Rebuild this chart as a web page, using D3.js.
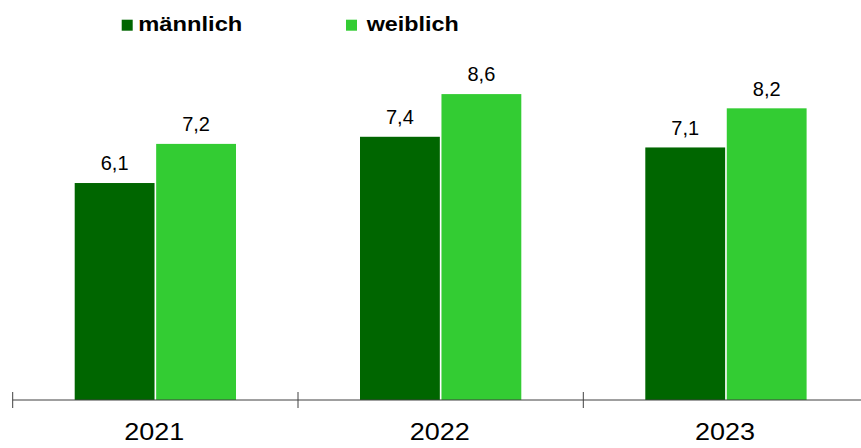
<!DOCTYPE html>
<html>
<head>
<meta charset="utf-8">
<script src="https://cdn.jsdelivr.net/npm/d3@7"></script>
<style>
  html, body { margin: 0; padding: 0; background: #fff; }
  svg { display: block; font-family: Arial, "Liberation Sans", sans-serif; }
</style>
</head>
<body>
<svg id="chart" width="861" height="448"></svg>
<script>
const years = ["2021", "2022", "2023"];
const seriesNames = ["männlich", "weiblich"];
const maleValues = [6.1, 7.4, 7.1];
const femaleValues = [7.2, 8.6, 8.2];
const colors = ["#006600", "#33cc33"];

const svg = d3.select("#chart");
const width = 861, height = 448;

const x0 = d3.scaleBand().domain(years).range([12.7, 868.6]).paddingInner(0).paddingOuter(0);
const groupPad = 62;
const x1 = d3.scaleBand().domain(seriesNames)
  .range([groupPad, x0.bandwidth() - groupPad]).paddingInner(0.02).paddingOuter(0);
const y = d3.scaleLinear().domain([0, 10]).range([400, 44.3]);

const data = years.map((yr, i) => ({
  year: yr,
  values: [
    { series: seriesNames[0], value: maleValues[i], color: colors[0] },
    { series: seriesNames[1], value: femaleValues[i], color: colors[1] }
  ]
}));

const fmt = v => d3.format(".1f")(v).replace(".", ",");

const groups = svg.append("g").selectAll("g").data(data).join("g")
  .attr("transform", d => `translate(${x0(d.year)},0)`);

groups.selectAll("rect").data(d => d.values).join("rect")
  .attr("x", d => x1(d.series))
  .attr("y", d => y(d.value))
  .attr("width", x1.bandwidth())
  .attr("height", d => y(0) - y(d.value))
  .attr("fill", d => d.color);

groups.selectAll("text.val").data(d => d.values).join("text")
  .attr("class", "val")
  .attr("x", d => x1(d.series) + x1.bandwidth() / 2)
  .attr("y", d => y(d.value) - 12.7)
  .attr("text-anchor", "middle")
  .attr("font-size", 20)
  .attr("fill", "#000")
  .text(d => fmt(d.value));

// x axis
const axis = d3.axisBottom(x0).tickSize(0).tickPadding(0);
const axisG = svg.append("g").attr("transform", `translate(0,${y(0)})`);
axisG.append("line")
  .attr("x1", 12.7).attr("x2", width)
  .attr("y1", 0).attr("y2", 0)
  .attr("stroke", "#404040").attr("stroke-width", 1);
// tick marks at band boundaries
const bounds = years.map(yr => x0(yr)).concat([x0(years[years.length - 1]) + x0.step()]);
axisG.selectAll("line.tick").data(bounds).join("line")
  .attr("class", "tick")
  .attr("x1", d => d).attr("x2", d => d)
  .attr("y1", -8).attr("y2", 8)
  .attr("stroke", "#404040").attr("stroke-width", 1);
axisG.selectAll("text.year").data(years).join("text")
  .attr("class", "year")
  .attr("x", d => x0(d) + x0.bandwidth() / 2 - 1)
  .attr("y", 40)
  .attr("text-anchor", "middle")
  .attr("font-size", 24)
  .attr("textLength", 60)
  .attr("lengthAdjust", "spacingAndGlyphs")
  .attr("fill", "#000")
  .text(d => d);

// legend
const legendPos = [{ sx: 121.7, tx: 138.3, tl: 104 }, { sx: 346, tx: 366.7, tl: 92 }];
const legend = svg.append("g").selectAll("g").data(seriesNames).join("g");
legend.append("rect")
  .attr("x", (d, i) => legendPos[i].sx)
  .attr("y", 19.7)
  .attr("width", 11).attr("height", 11)
  .attr("fill", (d, i) => colors[i]);
legend.append("text")
  .attr("x", (d, i) => legendPos[i].tx)
  .attr("y", 30.7)
  .attr("font-size", 20)
  .attr("font-weight", "bold")
  .attr("textLength", (d, i) => legendPos[i].tl)
  .attr("lengthAdjust", "spacingAndGlyphs")
  .attr("fill", "#000")
  .text(d => d);
</script>
</body>
</html>
